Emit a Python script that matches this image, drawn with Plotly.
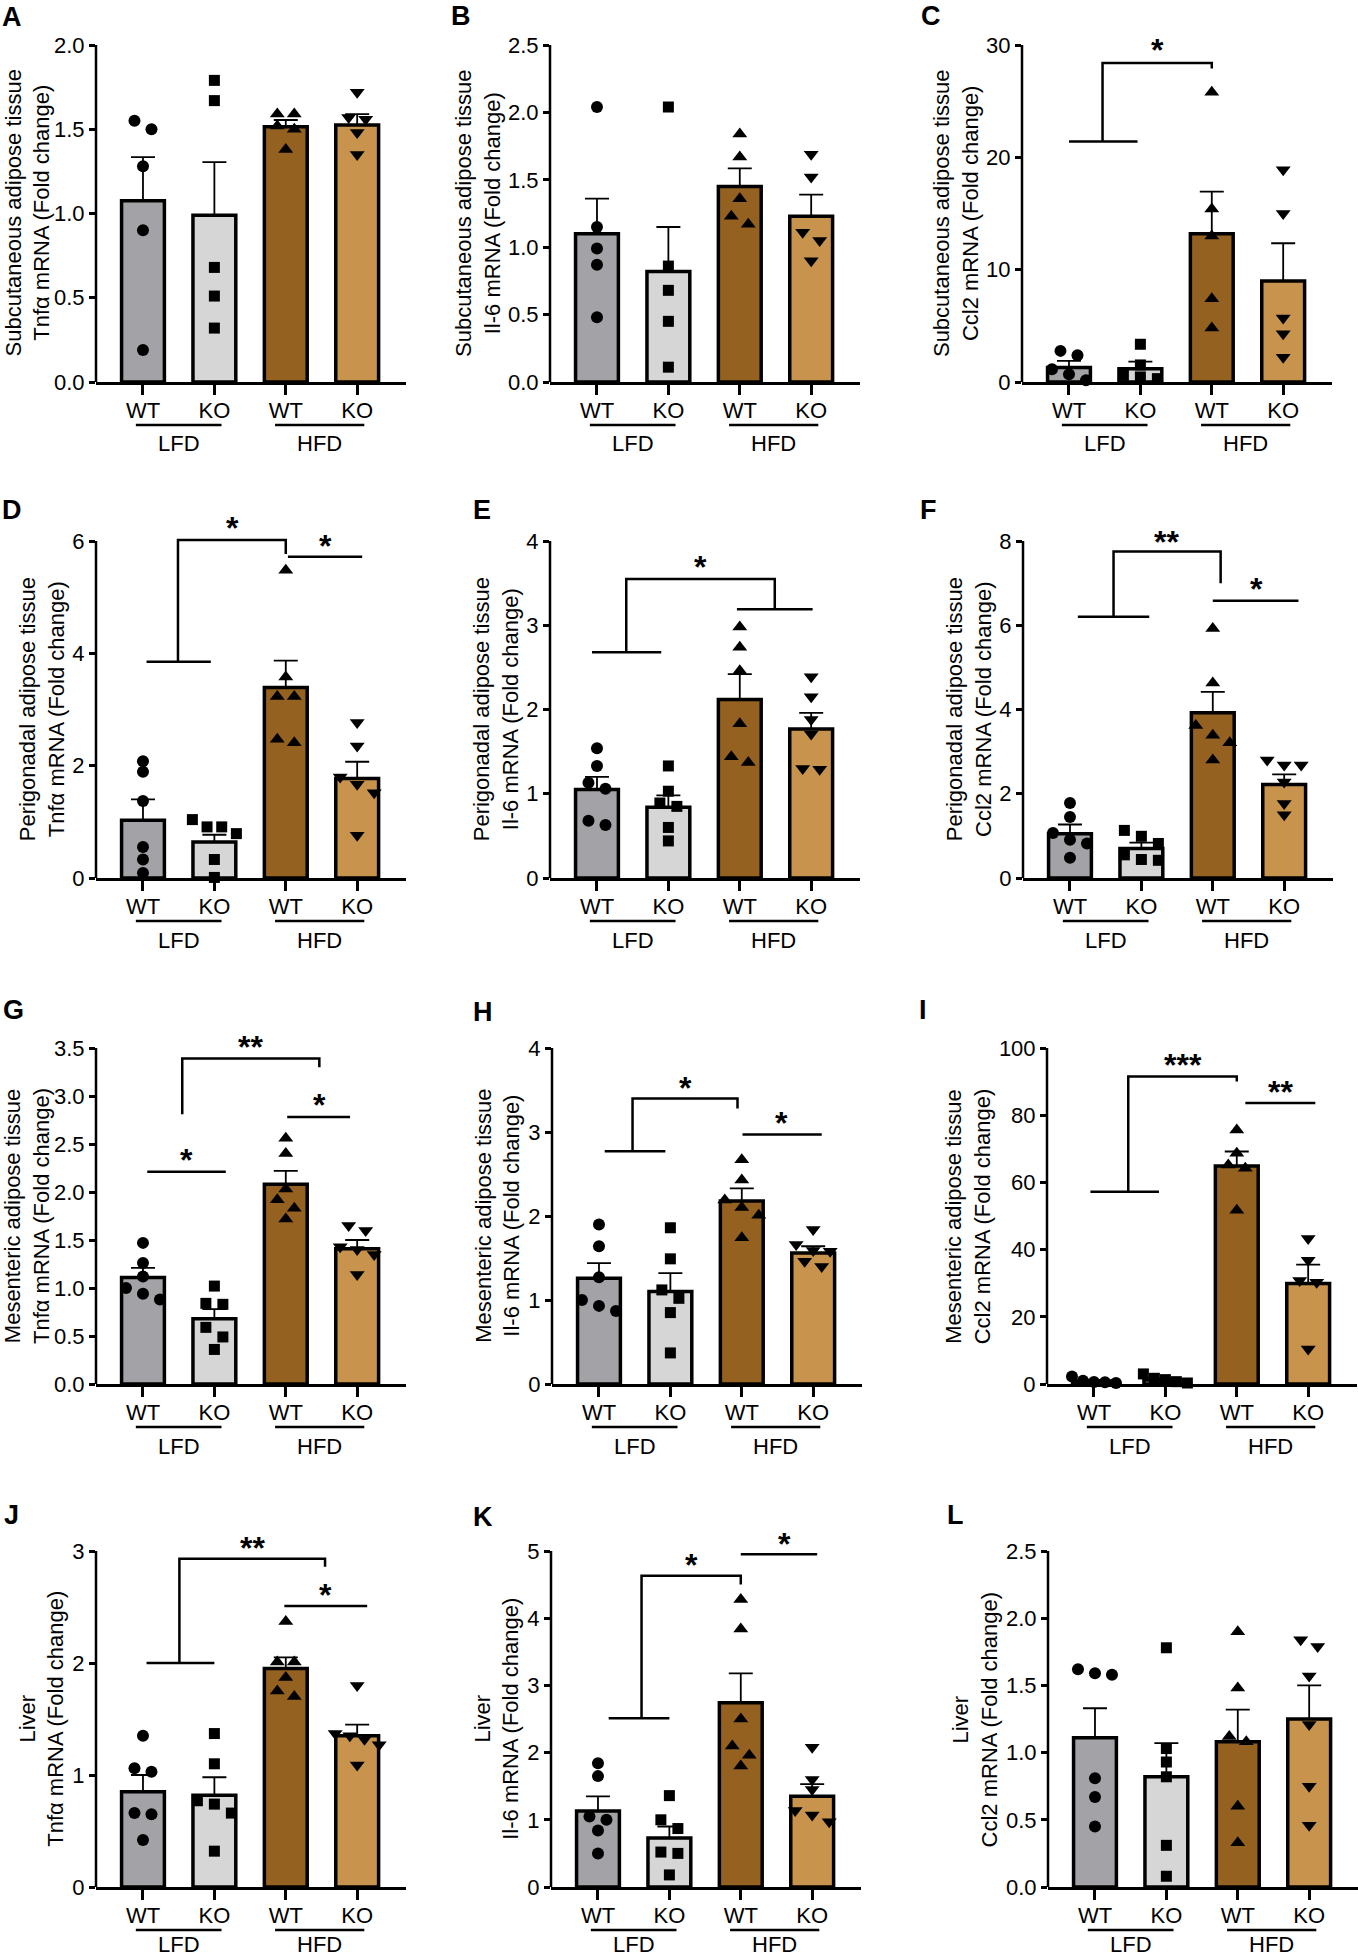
import plotly.graph_objects as go

W, H = 1358, 1958

genotypes = ["WT", "KO", "WT", "KO"]
diets = ["LFD", "HFD"]
bar_colors = ["#a3a2a7", "#d6d6d6", "#956121", "#c8934d"]
symbols = ["circle", "square", "triangle-up", "triangle-down"]
msizes = [12, 11, 13, 13]

# ---- values (mean, SEM, single animals) ----
A_mean = [1.075, 0.99, 1.515, 1.525]
A_sem = [0.26, 0.315, 0.04, 0.065]
A_pts = [[1.55, 1.50, 1.28, 0.90, 0.19], [1.79, 1.67, 0.68, 0.51, 0.32],
         [1.59, 1.59, 1.52, 1.50, 1.38], [1.72, 1.57, 1.56, 1.48, 1.35]]

B_mean = [1.10, 0.82, 1.45, 1.23]
B_sem = [0.26, 0.33, 0.135, 0.16]
B_pts = [[2.04, 1.15, 0.99, 0.87, 0.48], [2.04, 0.86, 0.68, 0.45, 0.11],
         [1.84, 1.67, 1.36, 1.23, 1.17], [1.69, 1.52, 1.11, 1.05, 0.90]]

C_mean = [1.28, 1.19, 13.2, 9.0]
C_sem = [0.6, 0.63, 3.75, 3.35]
C_pts = [[2.77, 2.38, 1.13, 0.68, 0.15], [3.36, 1.52, 0.60, 0.45, 0.30],
         [25.8, 15.4, 13.0, 7.4, 4.8], [18.9, 15.0, 5.7, 4.3, 2.2]]

D_mean = [1.03, 0.64, 3.39, 1.77]
D_sem = [0.37, 0.13, 0.48, 0.30]
D_pts = [[2.08, 1.89, 1.37, 0.55, 0.33, 0.09], [1.04, 0.91, 0.91, 0.79, 0.33, 0.01],
         [5.48, 3.58, 3.23, 3.23, 2.47, 2.41], [2.77, 2.35, 1.80, 1.67, 1.52, 0.76]]

E_mean = [1.05, 0.84, 2.12, 1.77]
E_sem = [0.15, 0.14, 0.30, 0.19]
E_pts = [[1.54, 1.33, 1.13, 1.06, 0.68, 0.63], [1.33, 1.03, 0.89, 0.85, 0.60, 0.44],
         [2.98, 2.74, 2.46, 1.83, 1.44, 1.37], [2.39, 2.15, 1.88, 1.71, 1.30, 1.29]]

F_mean = [1.05, 0.70, 3.92, 2.22]
F_sem = [0.22, 0.14, 0.50, 0.24]
F_pts = [[1.78, 1.45, 1.07, 0.91, 0.82, 0.48], [1.13, 0.99, 0.82, 0.55, 0.44, 0.42],
         [5.92, 4.63, 3.62, 3.39, 3.21, 2.80], [2.80, 2.68, 2.68, 2.28, 1.77, 1.50]]

G_mean = [1.11, 0.68, 2.08, 1.41]
G_sem = [0.10, 0.10, 0.14, 0.09]
G_pts = [[1.47, 1.26, 1.12, 1.00, 0.94, 0.88], [1.02, 0.84, 0.83, 0.59, 0.49, 0.36],
         [2.56, 2.40, 2.03, 1.92, 1.83, 1.72], [1.65, 1.60, 1.43, 1.40, 1.35, 1.14]]

H_mean = [1.26, 1.10, 2.18, 1.56]
H_sem = [0.18, 0.22, 0.15, 0.08]
H_pts = [[1.90, 1.64, 1.27, 1.00, 0.93, 0.87], [1.86, 1.49, 1.12, 1.02, 0.85, 0.37],
         [2.67, 2.43, 2.19, 2.10, 2.01, 1.74], [1.84, 1.66, 1.59, 1.58, 1.46, 1.40]]

I_mean = [0.9, 1.2, 64.9, 29.9]
I_sem = [0.35, 0.4, 4.3, 5.6]
I_pts = [[2.2, 1.0, 0.6, 0.5, 0.3], [3.0, 1.7, 1.3, 0.7, 0.3],
         [75.6, 68.7, 65.2, 64.2, 51.7], [43.3, 36.8, 30.8, 30.3, 10.4]]

J_mean = [0.85, 0.82, 1.95, 1.35]
J_sem = [0.15, 0.16, 0.10, 0.10]
J_pts = [[1.35, 1.06, 1.03, 0.66, 0.65, 0.42], [1.37, 1.10, 0.77, 0.74, 0.66, 0.32],
         [2.37, 2.01, 2.01, 1.87, 1.75, 1.70], [1.80, 1.37, 1.35, 1.32, 1.27, 1.09]]

K_mean = [1.13, 0.73, 2.74, 1.35]
K_sem = [0.22, 0.17, 0.44, 0.18]
K_pts = [[1.84, 1.65, 1.05, 1.00, 0.84, 0.50], [1.36, 1.00, 0.87, 0.52, 0.50, 0.18],
         [4.28, 3.84, 2.50, 2.10, 1.96, 1.80], [2.08, 1.60, 1.45, 1.14, 1.07, 0.97]]

L_mean = [1.11, 0.82, 1.08, 1.25]
L_sem = [0.22, 0.25, 0.24, 0.25]
L_pts = [[1.62, 1.59, 1.58, 0.81, 0.67, 0.45], [1.78, 1.03, 0.93, 0.82, 0.31, 0.08],
         [1.90, 1.48, 1.12, 1.08, 0.60, 0.33], [1.84, 1.79, 1.57, 1.21, 0.75, 0.46]]

SUB, PERI, MES, LIV = ("Subcutaneous adipose tissue", "Perigonadal adipose tissue",
                       "Mesenteric adipose tissue", "Liver")

panels = [
    dict(key="A", tissue=SUB, gene="Tnfα", ymax=2.0, dtick=0.5, dec=1, mean=A_mean, sem=A_sem, pts=A_pts),
    dict(key="B", tissue=SUB, gene="Il-6", ymax=2.5, dtick=0.5, dec=1, mean=B_mean, sem=B_sem, pts=B_pts),
    dict(key="C", tissue=SUB, gene="Ccl2", ymax=30, dtick=10, dec=0, mean=C_mean, sem=C_sem, pts=C_pts),
    dict(key="D", tissue=PERI, gene="Tnfα", ymax=6, dtick=2, dec=0, mean=D_mean, sem=D_sem, pts=D_pts),
    dict(key="E", tissue=PERI, gene="Il-6", ymax=4, dtick=1, dec=0, mean=E_mean, sem=E_sem, pts=E_pts),
    dict(key="F", tissue=PERI, gene="Ccl2", ymax=8, dtick=2, dec=0, mean=F_mean, sem=F_sem, pts=F_pts),
    dict(key="G", tissue=MES, gene="Tnfα", ymax=3.5, dtick=0.5, dec=1, mean=G_mean, sem=G_sem, pts=G_pts),
    dict(key="H", tissue=MES, gene="Il-6", ymax=4, dtick=1, dec=0, mean=H_mean, sem=H_sem, pts=H_pts),
    dict(key="I", tissue=MES, gene="Ccl2", ymax=100, dtick=20, dec=0, mean=I_mean, sem=I_sem, pts=I_pts),
    dict(key="J", tissue=LIV, gene="Tnfα", ymax=3, dtick=1, dec=0, mean=J_mean, sem=J_sem, pts=J_pts),
    dict(key="K", tissue=LIV, gene="Il-6", ymax=5, dtick=1, dec=0, mean=K_mean, sem=K_sem, pts=K_pts),
    dict(key="L", tissue=LIV, gene="Ccl2", ymax=2.5, dtick=0.5, dec=1, mean=L_mean, sem=L_sem, pts=L_pts),
]

# significance brackets (data coordinates) and stars
brackets = {
    "C": [[(0.0, 21.4), (0.96, 21.4)], [(0.47, 21.4), (0.47, 28.4), (2.0, 28.4), (2.0, 27.9)]],
    "D": [[(0.05, 3.85), (0.95, 3.85)], [(0.49, 3.85), (0.49, 6.02), (2.0, 6.02), (2.0, 5.77)],
          [(2.03, 5.72), (3.07, 5.72)]],
    "E": [[(-0.07, 2.68), (0.9, 2.68)], [(0.41, 2.68), (0.41, 3.55), (2.49, 3.55), (2.49, 3.19)],
          [(1.96, 3.19), (3.02, 3.19)]],
    "F": [[(0.11, 6.2), (1.11, 6.2)], [(0.61, 6.2), (0.61, 7.75), (2.11, 7.75), (2.11, 7.0)],
          [(2.0, 6.58), (3.2, 6.58)]],
    "G": [[(0.55, 2.81), (0.55, 3.39), (2.47, 3.39), (2.47, 3.30)], [(0.06, 2.21), (1.16, 2.21)],
          [(2.02, 2.78), (2.90, 2.78)]],
    "H": [[(0.08, 2.77), (0.93, 2.77)], [(0.47, 2.77), (0.47, 3.40), (1.94, 3.40), (1.94, 3.28)],
          [(2.01, 2.97), (3.12, 2.97)]],
    "I": [[(-0.05, 57.2), (0.91, 57.2)], [(0.48, 57.2), (0.48, 91.5), (2.0, 91.5), (2.0, 90.0)],
          [(2.12, 83.6), (3.1, 83.6)]],
    "J": [[(0.05, 2.0), (1.0, 2.0)], [(0.51, 2.0), (0.51, 2.93), (2.55, 2.93), (2.55, 2.86)],
          [(1.98, 2.51), (3.14, 2.51)]],
    "K": [[(0.15, 2.51), (1.0, 2.51)], [(0.61, 2.51), (0.61, 4.63), (2.0, 4.63), (2.0, 4.50)],
          [(2.0, 4.95), (3.07, 4.95)]],
}
stars = {
    "C": [(1.24, 30.15, "*")],
    "D": [(1.25, 6.35, "*"), (2.55, 6.03, "*")],
    "E": [(1.45, 3.77, "*")],
    "F": [(1.35, 8.14, "**"), (2.61, 7.03, "*")],
    "G": [(1.51, 3.58, "**"), (0.61, 2.41, "*"), (2.47, 2.98, "*")],
    "H": [(1.21, 3.61, "*"), (2.56, 3.19, "*")],
    "I": [(1.24, 97.0, "***"), (2.61, 88.9, "**")],
    "J": [(1.53, 3.09, "**"), (2.56, 2.67, "*")],
    "K": [(1.31, 4.90, "*"), (2.61, 5.21, "*")],
}

# ---- page geometry (pixels) ----
axis_x = {"A": 96, "B": 550, "C": 1022, "D": 96, "E": 550, "F": 1023,
          "G": 96, "H": 552, "I": 1047, "J": 96, "K": 551, "L": 1048}
row_top = [45, 541, 1048, 1551]
row_bot = [382, 878, 1384, 1887]
letter_pos = {"A": (12, 17), "B": (461, 16), "C": (931, 16), "D": (12, 510), "E": (482, 510),
              "F": (928, 510), "G": (13, 1010), "H": (483, 1012), "I": (923, 1010),
              "J": (11, 1515), "K": (483, 1517), "L": (955, 1515)}
AX_LEN = 310
X0 = -0.658
PX_PER_CAT = 71.4
HEAD = 22
FONT = "Arial, Liberation Sans, sans-serif"
CW = {".": 0.278}
FS = 22


def px_x(x):
    return x / W


def px_y(y):
    return 1 - y / H


def spread(vals, ppu):
    # arrange points of similar height side by side (Prism-like scatter)
    order = sorted(range(len(vals)), key=lambda i: -vals[i])
    rows, cur = [], [order[0]]
    for i in order[1:]:
        if (vals[cur[-1]] - vals[i]) * ppu < 10:
            cur.append(i)
        else:
            rows.append(cur)
            cur = [i]
    rows.append(cur)
    off = [0.0] * len(vals)
    for r in rows:
        n = len(r)
        if n < 2:
            continue
        d = min(17, 44 / (n - 1))
        for k, i in enumerate(r):
            off[i] = (k - (n - 1) / 2) * d / PX_PER_CAT
    return off


fig = go.Figure()
shapes, annos, axes = [], [], {}

for n, p in enumerate(panels, start=1):
    key = p["key"]
    sfx = "" if n == 1 else str(n)
    xa, ya = "x" + sfx, "y" + sfx
    r = (n - 1) // 3
    top, bot = row_top[r], row_bot[r]
    ax0 = axis_x[key]
    ax1 = min(ax0 + AX_LEN, W)
    ppu = (bot - top) / p["ymax"]
    yr = p["ymax"] * (bot - top + HEAD) / (bot - top)

    fig.add_trace(go.Bar(
        x=[0, 1, 2, 3], y=p["mean"], width=0.6,
        marker=dict(color=bar_colors, line=dict(color="black", width=3.5)),
        error_y=dict(type="data", symmetric=False, array=p["sem"], arrayminus=[0] * 4,
                     color="black", thickness=1.8, width=12),
        xaxis=xa, yaxis=ya, showlegend=False, hoverinfo="skip"))
    for g in range(4):
        vals = p["pts"][g]
        offs = spread(vals, ppu)
        fig.add_trace(go.Scatter(
            x=[g + o for o in offs], y=vals, mode="markers",
            marker=dict(symbol=symbols[g], size=msizes[g], color="black", line=dict(width=0)),
            xaxis=xa, yaxis=ya, showlegend=False, cliponaxis=False, hoverinfo="skip"))

    tv, tt = [], []
    v = 0.0
    while v <= p["ymax"] + 1e-9:
        tv.append(v)
        tt.append(f"{v:.{p['dec']}f}")
        v += p["dtick"]

    axes["xaxis" + sfx] = dict(
        domain=[px_x(ax0), px_x(ax1)], anchor=ya,
        range=[X0, X0 + (ax1 - ax0) / PX_PER_CAT],
        tickmode="array", tickvals=[0, 1, 2, 3], ticktext=genotypes,
        ticks="outside", ticklen=10, tickwidth=2.5, tickcolor="black", ticklabelstandoff=-3,
        showline=True, linecolor="black", linewidth=2.5, showgrid=False, zeroline=False,
        automargin=False, tickfont=dict(size=FS, color="black", family=FONT))
    axes["yaxis" + sfx] = dict(
        domain=[px_y(bot), px_y(top - HEAD)], anchor=xa, range=[0, yr],
        tickmode="array", tickvals=tv, ticktext=tt,
        ticks="outside", ticklen=6, tickwidth=2.5, tickcolor="black",
        showline=False, showgrid=False, zeroline=False,
        automargin=False, tickfont=dict(size=FS, color="black", family=FONT))

    # y axis line, only up to the last tick
    shapes.append(dict(type="line", xref="paper", yref=ya, x0=px_x(ax0), x1=px_x(ax0),
                       y0=0, y1=p["ymax"], line=dict(color="black", width=2.5)))

    # diet group lines and labels under the x axis (kept inside the page)
    lab_y = min(bot + 62, H - 14)
    for gi, (a, b) in enumerate([(-0.1, 1.1), (1.85, 3.1)]):
        shapes.append(dict(type="line", xref=xa, yref="paper", x0=a, x1=b,
                           y0=px_y(bot + 43), y1=px_y(bot + 43),
                           line=dict(color="black", width=2.5)))
        annos.append(dict(xref=xa, yref="paper", x=(a + b) / 2, y=px_y(lab_y),
                          text=diets[gi], showarrow=False, xanchor="center", yanchor="middle",
                          font=dict(size=FS, color="black", family=FONT)))

    # y title, placed from the width of the tick labels
    lw = max(sum(CW.get(c, 0.556) for c in s) for s in tt) * 22
    tx = max(ax0 - lw - 42, 27)
    annos.append(dict(xref="paper", yref="paper", x=px_x(tx), y=px_y((top + bot) / 2),
                      textangle=-90, text=f"{p['tissue']}<br>{p['gene']} mRNA (Fold change)",
                      showarrow=False, xanchor="center", yanchor="middle",
                      font=dict(size=22, color="black", family=FONT)))

    # panel letter
    lx, ly = letter_pos[key]
    annos.append(dict(xref="paper", yref="paper", x=px_x(lx), y=px_y(ly), text=f"<b>{key}</b>",
                      showarrow=False, xanchor="center", yanchor="middle",
                      font=dict(size=27, color="black", family=FONT)))

    for poly in brackets.get(key, []):
        path = "M " + " L ".join(f"{x},{y}" for x, y in poly)
        shapes.append(dict(type="path", xref=xa, yref=ya, path=path,
                           line=dict(color="black", width=2.5)))
    for sx, sy, txt in stars.get(key, []):
        annos.append(dict(xref=xa, yref=ya, x=sx, y=sy, text=f"<b>{txt}</b>", showarrow=False,
                          xanchor="center", yanchor="middle", yshift=-7,
                          font=dict(size=32, color="black", family=FONT)))

# autoexpand off: nothing may push the margins and shrink the plotting area
fig.update_layout(
    width=W, height=H, margin=dict(l=0, r=0, t=0, b=0, pad=0, autoexpand=False),
    paper_bgcolor="white", plot_bgcolor="white",
    shapes=shapes, annotations=annos, **axes)

# no page margin and no scrollbars, so the figure fills the window exactly
page_css = ("document.documentElement.style.overflow='hidden';"
            "document.body.style.overflow='hidden';"
            "document.body.style.margin='0px';")
fig.write_html("out.html", config={"displayModeBar": False}, post_script=page_css)
